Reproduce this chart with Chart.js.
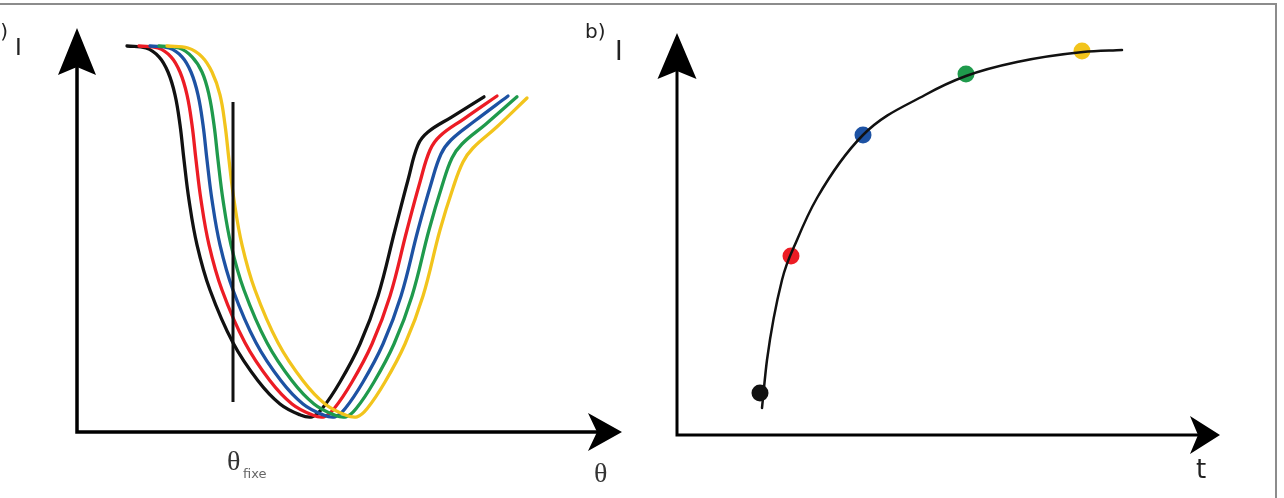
<!DOCTYPE html>
<html><head><meta charset="utf-8">
<script src="https://cdn.jsdelivr.net/npm/chart.js@4/dist/chart.umd.min.js"></script>
<style>
html,body{margin:0;padding:0;background:#fff;}
body{width:1284px;height:498px;position:relative;overflow:hidden;font-family:"DejaVu Sans",sans-serif;}
canvas{position:absolute;top:0;}
#c1{left:0;} #c2{left:640px;}
.frame{position:absolute;left:-4px;top:3px;width:1281px;height:520px;border-top:2px solid #8c8c8c;border-right:2px solid #8c8c8c;box-sizing:border-box;}
.t{position:absolute;color:#222;white-space:nowrap;line-height:1;}
.serif{font-family:"Liberation Serif",serif;color:#333;}
</style></head><body>
<div class="frame"></div>
<canvas id="c1" width="640" height="498"></canvas>
<canvas id="c2" width="644" height="498"></canvas>
<span class="t" style="left:-12px;top:21px;font-size:20px;">a)</span>
<span class="t" style="left:15px;top:36px;font-size:23px;">I</span>
<span class="t" style="left:585px;top:21px;font-size:20px;">b)</span>
<span class="t" style="left:615px;top:38px;font-size:26px;">I</span>
<span class="t serif" style="left:594px;top:459px;font-size:28px;">θ</span>
<span class="t serif" style="left:227px;top:447px;font-size:28px;">θ</span>
<span class="t" style="left:243px;top:467px;font-size:13px;color:#666;">fixe</span>
<span class="t" style="left:1196px;top:456px;font-size:26px;">t</span>
<script>
// ---------- panel a) : reflected intensity I vs angle θ ----------
const THETA_MAX = 109, I_MAX_A = 101;
const thetaBlack  = [10.0,13.8,16.4,18.2,19.6,20.6,21.4,22.4,24.0,26.6,31.2,36.2,40.6,44.6,47.0,49.0,52.6,56.6,60.2,63.6,66.2,68.2,70.2,75.0,81.4];
const intBlack    = [96.5,96.0,93.8,90.0,84.3,76.8,68.0,58.0,46.8,35.5,22.3,12.8,7.0,4.3,3.8,5.8,12.5,22.0,34.0,50.5,63.0,71.8,75.0,78.8,83.8];
const thetaRed    = [12.4,16.2,18.8,20.6,22.0,23.0,23.8,24.8,26.4,29.0,33.6,38.6,43.0,47.0,49.4,51.4,55.0,59.0,62.6,66.0,68.6,70.6,72.6,77.4,84.0];
const intRed      = [96.5,96.0,93.8,90.0,84.3,76.8,68.0,58.0,46.8,35.5,22.3,12.8,7.0,4.3,3.8,5.8,12.5,22.0,34.0,50.5,62.5,70.5,74.0,78.3,84.0];
const thetaBlue   = [14.6,18.4,21.0,22.8,24.2,25.2,26.0,27.0,28.6,31.2,35.8,40.8,45.2,49.2,51.6,53.6,57.2,61.2,64.8,68.2,70.8,72.8,74.8,79.6,86.2];
const intBlue     = [96.5,96.0,93.8,90.0,84.3,76.8,68.0,58.0,46.8,35.5,22.3,12.8,7.0,4.3,3.8,5.8,12.5,22.0,34.0,50.5,62.0,69.5,73.0,77.8,84.0];
const thetaGreen  = [16.4,20.4,23.0,25.0,26.4,27.4,28.2,29.2,30.8,33.4,38.0,43.0,47.4,51.4,53.8,55.8,59.4,63.4,67.0,70.4,73.0,75.0,77.0,81.8,88.0];
const intGreen    = [96.5,96.0,93.8,90.0,84.3,76.8,68.0,58.0,46.8,35.5,22.3,12.8,7.0,4.3,3.8,5.8,12.5,22.0,34.0,50.5,61.5,68.5,72.0,77.0,83.8];
const thetaYellow = [18.0,22.2,25.0,27.0,28.6,29.6,30.4,31.4,33.0,35.6,40.2,45.2,49.6,53.6,56.0,58.0,61.6,65.6,69.2,72.6,75.2,77.2,79.2,84.0,90.0];
const intYellow   = [96.5,96.0,93.8,90.0,84.3,76.8,68.0,58.0,46.8,35.5,22.3,12.8,7.0,4.3,3.8,5.8,12.5,22.0,34.0,50.5,61.0,67.5,71.0,76.3,83.5];
const thetaFixe   = [31.2, 31.2];
const thetaFixeI  = [7.5, 82.5];

// ---------- panel b) : I vs time t at θfixe ----------
const T_MAX = 108.6, I_MAX_B = 100.5;
const timeCurve = [17.0,18.0,21.0,24.0,28.0,37.2,49.6,57.8,68.0,81.2,89.0];
const intCurve  = [6.75,18.75,38.75,48.75,59.25,75.0,85.0,89.75,93.25,95.75,96.25];
const timeDots  = [16.6,22.8,37.2,57.8,81.0];
const intDots   = [10.5,44.75,75.0,90.25,96.0];

const COLORS = {black:'#111111', red:'#ec1c24', blue:'#1d52a3', green:'#1f9a4c', yellow:'#f2c41c'};
const pts = (xs, ys) => xs.map((v, i) => ({x: v, y: ys[i]}));

const axisArrows = {
  id: 'axisArrows',
  beforeDatasetsDraw(chart, args, o) {
    const {ctx, scales: {x, y}} = chart;
    const x0 = x.getPixelForValue(0), y0 = y.getPixelForValue(0);
    const xTip = x.getPixelForValue(x.max), yTip = y.getPixelForValue(y.max);
    ctx.save();
    ctx.strokeStyle = '#000'; ctx.fillStyle = '#000';
    ctx.lineWidth = o.width; ctx.lineJoin = 'miter';
    ctx.beginPath();
    ctx.moveTo(x0, yTip + o.yLen - o.yNotch);
    ctx.lineTo(x0, y0);
    ctx.lineTo(xTip - o.xLen + o.xNotch, y0);
    ctx.stroke();
    ctx.beginPath();
    ctx.moveTo(x0, yTip);
    ctx.lineTo(x0 + o.yHalf, yTip + o.yLen);
    ctx.lineTo(x0, yTip + o.yLen - o.yNotch);
    ctx.lineTo(x0 - o.yHalf, yTip + o.yLen);
    ctx.closePath(); ctx.fill();
    ctx.beginPath();
    ctx.moveTo(xTip, y0);
    ctx.lineTo(xTip - o.xLen, y0 - o.xHalf);
    ctx.lineTo(xTip - o.xLen + o.xNotch, y0);
    ctx.lineTo(xTip - o.xLen, y0 + o.xHalf);
    ctx.closePath(); ctx.fill();
    ctx.restore();
  }
};

const scalesFor = (xMax, yMax) => ({
  x: {type: 'linear', min: 0, max: xMax, display: false},
  y: {type: 'linear', min: 0, max: yMax, display: false}
});
const lineDs = (data, color, order, width) => ({
  data, borderColor: color, borderWidth: width, pointRadius: 0, fill: false,
  tension: 0.4, cubicInterpolationMode: 'default', clip: false, order,
  borderCapStyle: 'round', borderJoinStyle: 'round'
});

new Chart(document.getElementById('c1'), {
  type: 'line',
  data: {datasets: [
    lineDs(pts(thetaBlack, intBlack), COLORS.black, 5, 3.3),
    lineDs(pts(thetaRed, intRed), COLORS.red, 4, 3.3),
    lineDs(pts(thetaBlue, intBlue), COLORS.blue, 3, 3.3),
    lineDs(pts(thetaGreen, intGreen), COLORS.green, 2, 3.3),
    lineDs(pts(thetaYellow, intYellow), COLORS.yellow, 1, 3.3),
    Object.assign(lineDs(pts(thetaFixe, thetaFixeI), COLORS.black, 0, 3), {borderCapStyle: 'butt', tension: 0})
  ]},
  options: {
    responsive: false, animation: false, events: [],
    layout: {padding: {left: 77, right: 18, top: 28, bottom: 66}},
    scales: scalesFor(THETA_MAX, I_MAX_A),
    plugins: {legend: {display: false}, tooltip: {enabled: false},
      axisArrows: {width: 3.5, yLen: 47, yHalf: 19, yNotch: 8, xLen: 34, xHalf: 19, xNotch: 9}}
  },
  plugins: [axisArrows]
});

new Chart(document.getElementById('c2'), {
  type: 'line',
  data: {datasets: [
    Object.assign(lineDs(pts(timeCurve, intCurve), COLORS.black, 0, 2.5), {cubicInterpolationMode: 'monotone'}),
    {type: 'scatter', data: pts(timeDots, intDots), showLine: false, pointRadius: 8.5, borderWidth: 0,
     pointBackgroundColor: [COLORS.black, COLORS.red, COLORS.blue, COLORS.green, COLORS.yellow], clip: false, order: 1}
  ]},
  options: {
    responsive: false, animation: false, events: [],
    layout: {padding: {left: 37, right: 64, top: 33, bottom: 63}},
    scales: scalesFor(T_MAX, I_MAX_B),
    plugins: {legend: {display: false}, tooltip: {enabled: false},
      axisArrows: {width: 3, yLen: 46, yHalf: 19.5, yNotch: 8, xLen: 30, xHalf: 19, xNotch: 8}}
  },
  plugins: [axisArrows]
});
</script>
</body></html>
